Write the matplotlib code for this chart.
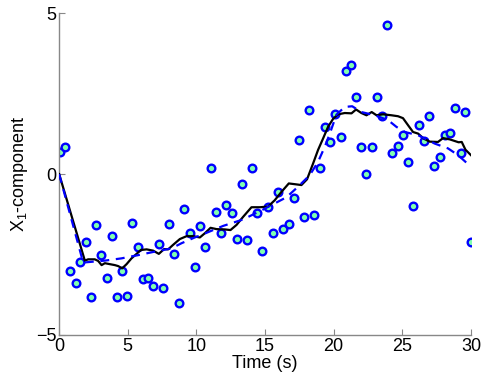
import matplotlib
matplotlib.use("Agg")
import matplotlib.pyplot as plt

plt.rcParams['font.family'] = ['Liberation Sans', 'DejaVu Sans']
plt.rcParams['mathtext.fontset'] = 'custom'
plt.rcParams['mathtext.rm'] = 'Liberation Sans'

# measurements (circles)
t_meas = [0.03, 0.44, 0.76, 1.19, 1.53, 1.92, 2.31, 2.67, 3.06, 3.45, 3.82, 4.18, 4.57, 4.93,
          5.32, 5.71, 6.10, 6.46, 6.85, 7.24, 7.60, 7.99, 8.35, 8.74, 9.13, 9.50, 9.88, 10.25,
          10.64, 11.03, 11.39, 11.78, 12.16, 12.56, 12.92, 13.31, 13.67, 14.06, 14.42, 14.81,
          15.18, 15.56, 15.93, 16.31, 16.71, 17.09, 17.48, 17.84, 18.21, 18.60, 18.99, 19.39,
          19.74, 20.10, 20.50, 20.88, 21.27, 21.63, 22.02, 22.39, 22.77, 23.14, 23.53, 23.92,
          24.28, 24.67, 25.05, 25.42, 25.81, 26.20, 26.56, 26.95, 27.31, 27.71, 28.09, 28.46,
          28.84, 29.24, 29.60, 30.00]
x_meas = [0.69, 0.83, -3.01, -3.40, -2.73, -2.11, -3.81, -1.57, -2.51, -3.24, -1.93, -3.81, -3.02,
          -3.78, -1.53, -2.28, -3.25, -3.22, -3.47, -2.16, -3.55, -1.55, -2.47, -4.02, -1.07,
          -1.84, -2.89, -1.61, -2.26, 0.20, -1.18, -1.84, -0.95, -1.20, -2.01, -0.30, -2.04,
          0.20, -1.22, -2.39, -1.02, -1.83, -0.57, -1.70, -1.56, -0.74, 1.06, -1.34, 2.00,
          -1.27, 0.20, 1.47, 1.01, 1.88, 1.16, 3.21, 3.39, 2.40, 0.85, 0.00, 0.85, 2.40, 1.80,
          4.64, 0.67, 0.87, 1.21, 0.38, -1.00, 1.52, 1.02, 1.80, 0.26, 0.53, 1.21, 1.28, 2.06,
          0.66, 1.92, -2.11]

# black solid estimate
t_est = [0.0, 1.87, 2.11, 2.60, 2.84, 3.09, 3.33, 3.69, 4.06, 4.30, 4.59, 4.91, 5.27, 5.64,
         5.95, 6.37, 6.85, 7.26, 7.65, 7.94, 8.30, 8.79, 9.28, 9.76, 10.25, 10.61, 11.03, 11.46,
         12.07, 12.48, 12.92, 13.40, 14.01, 14.62, 15.22, 15.71, 16.20, 16.73, 17.29, 17.65,
         18.06, 18.50, 18.86, 19.23, 19.59, 19.96, 20.32, 20.81, 21.30, 21.63, 22.02, 22.39,
         22.77, 23.12, 23.60, 24.21, 24.69, 25.05, 25.42, 25.78, 26.15, 26.57, 27.00, 27.60,
         27.97, 28.46, 29.10, 29.33, 29.60, 30.00]
x_est = [0.0, -2.69, -2.65, -2.65, -2.70, -2.83, -2.77, -2.80, -2.83, -2.86, -2.93, -2.80, -2.62,
         -2.48, -2.36, -2.34, -2.38, -2.48, -2.33, -2.34, -2.20, -2.02, -1.93, -1.93, -1.97,
         -1.84, -1.67, -1.71, -1.72, -1.74, -1.58, -1.33, -1.03, -1.03, -1.01, -0.81, -0.55,
         -0.29, -0.32, -0.34, -0.16, 0.33, 0.75, 1.11, 1.47, 1.72, 1.86, 1.90, 1.89, 2.01, 1.90,
         1.83, 1.93, 1.83, 1.86, 1.83, 1.80, 1.74, 1.52, 1.31, 1.26, 1.10, 1.01, 1.00, 1.12,
         1.08, 0.99, 1.00, 0.76, 0.59]

# blue dashed reference
t_ref = [0.0, 1.75, 3.33, 4.54, 5.75, 6.97, 8.18, 8.91, 9.88, 10.37, 11.95, 13.40, 14.86,
         16.56, 17.41, 18.26, 18.86, 19.35, 19.72, 20.20, 20.81, 21.35, 22.02, 23.00, 23.96,
         24.57, 25.18, 26.15, 27.36, 28.33, 29.06, 30.00]
x_ref = [0.0, -2.75, -2.69, -2.62, -2.52, -2.41, -2.31, -2.15, -1.97, -1.89, -1.61, -1.41, -1.10,
         -0.72, -0.39, -0.03, 0.38, 0.85, 1.26, 1.85, 2.09, 2.11, 1.93, 1.83, 1.68, 1.47, 1.31,
         1.21, 0.95, 0.80, 0.59, 0.23]

fig = plt.figure(figsize=(4.85, 3.81), dpi=100)
ax = fig.add_axes([0.122, 0.121, 0.849, 0.844])

ax.plot(t_meas, x_meas, 'o', markersize=5.5, markeredgewidth=1.7,
        markeredgecolor='#0000ff', markerfacecolor='#80ffb0', zorder=2)
ax.plot(t_est, x_est, '-', color='black', linewidth=1.6, zorder=3)
ax.plot(t_ref, x_ref, '--', color='#0000ff', linewidth=1.6, dashes=(4, 3), zorder=3)

ax.set_xlim(0, 30)
ax.set_ylim(-5, 5)
ax.set_xticks([0, 5, 10, 15, 20, 25, 30])
ax.set_yticks([-5, 0, 5])

for s in ['top', 'right']:
    ax.spines[s].set_visible(False)
for s in ['left', 'bottom']:
    ax.spines[s].set_color('#888888')
    ax.spines[s].set_linewidth(1.0)
ax.tick_params(direction='in', length=4, color='#888888', labelsize=13,
               labelcolor='black', pad=2)

ax.set_xlabel('Time (s)', fontsize=13, labelpad=0)
ax.set_ylabel(r'X$_\mathregular{1}$-component', fontsize=13, labelpad=4)

fig.savefig('out.png', dpi=100)
